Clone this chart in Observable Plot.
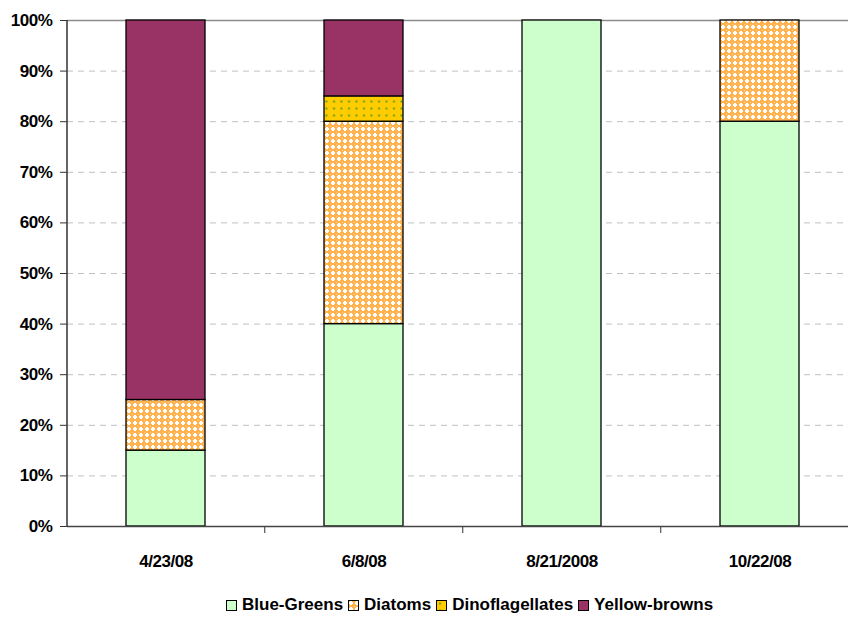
<!DOCTYPE html>
<html><head><meta charset="utf-8">
<script src="https://cdn.jsdelivr.net/npm/d3@7"></script>
<script src="https://cdn.jsdelivr.net/npm/@observablehq/plot@0.6"></script>
<style>
body{margin:0;background:#fff;font-family:"Liberation Sans",Arial,sans-serif;}
#wrap{position:relative;width:848px;height:624px;overflow:hidden;}
#legend{position:absolute;left:226px;top:595px;display:flex;align-items:center;font-weight:bold;font-size:17px;color:#000;white-space:nowrap;}
#legend .item{display:flex;align-items:center;margin-right:5px;}
#legend svg{margin-right:5px;}
</style></head><body>
<svg width="0" height="0" style="position:absolute">
  <defs>
    <pattern id="diatoms" width="6" height="6" patternUnits="userSpaceOnUse">
      <rect width="6" height="6" fill="#FFB24E"/>
      <rect x="2" y="1" width="2" height="4" fill="#fff"/>
      <rect x="1" y="2" width="4" height="2" fill="#fff"/>
      <rect x="0" y="0" width="1" height="1" fill="#FFD59A"/>
    </pattern>
    <pattern id="dinos" width="7.5" height="7" patternUnits="userSpaceOnUse">
      <rect width="7.5" height="7" fill="#FFCC00"/>
      <rect x="3" y="2.5" width="2" height="2" fill="#669E1A"/>
    </pattern>
  </defs>
</svg>
<div id="wrap"><div id="chart"></div><div id="legend"></div></div>
<script>
const dates = ["4/23/08", "6/8/08", "8/21/2008", "10/22/08"];
const series = ["Blue-Greens", "Diatoms", "Dinoflagellates", "Yellow-browns"];
const blueGreens = [15, 40, 100, 80];
const diatoms = [10, 40, 0, 20];
const dinoflagellates = [0, 5, 0, 0];
const yellowBrowns = [75, 15, 0, 0];
const yTicks = [0, 10, 20, 30, 40, 50, 60, 70, 80, 90, 100];
const seriesFills = ["#CCFFCC", "url(#diatoms)", "url(#dinos)", "#993366"];

const valuesBySeries = [blueGreens, diatoms, dinoflagellates, yellowBrowns];
const rows = [];
dates.forEach((d, i) => {
  series.forEach((s, j) => {
    const v = valuesBySeries[j][i];
    if (v > 0) rows.push({date: d, series: s, value: v});
  });
});

const chart = Plot.plot({
  width: 848,
  height: 585,
  marginLeft: 67,
  marginRight: 0,
  marginTop: 20,
  marginBottom: 59,
  style: {fontFamily: "'Liberation Sans', Arial, sans-serif", background: "#fff", overflow: "visible"},
  x: {domain: dates, range: [66, 860], paddingInner: 0.6, paddingOuter: 0.3, label: null},
  y: {domain: [0, 100], label: null},
  color: {type: "ordinal", domain: series, range: seriesFills},
  marks: [
    Plot.ruleY(yTicks.filter(t => t > 0 && t < 100), {stroke: "#c0c0c0", strokeDasharray: "6,5", strokeWidth: 1}),
    Plot.ruleY([100], {stroke: "#8c8c8c", strokeWidth: 1.5}),
    Plot.barY(rows, Plot.stackY({x: "date", y: "value", fill: "series", stroke: "#000", strokeWidth: 1.3, order: series})),
    Plot.axisY({ticks: yTicks, tickFormat: d => d + "%", tickSize: 7, tickPadding: 8, fontSize: 17, fontWeight: "bold", stroke: "#333", fill: "#000"}),
    Plot.axisX(dates.slice(1), {tickSize: 7, tickFormat: () => "", dx: -99.25, stroke: "#333"}),
    Plot.axisX({tickSize: 0, tickPadding: 28, fontSize: 17, fontWeight: "bold", fill: "#000"}),
    Plot.ruleY([0], {stroke: "#444", strokeWidth: 1.5})
  ]
});
document.getElementById("chart").appendChild(chart);

const svg = d3.select(chart);
svg.selectAll("g[aria-label='y-axis tick label'] text, g[aria-label='x-axis tick label'] text").style("letter-spacing", "-0.45px");
svg.append("line").attr("x1", 67).attr("x2", 67).attr("y1", 20).attr("y2", 526).attr("stroke", "#333").attr("stroke-width", 1.5);

const legend = document.getElementById("legend");
series.forEach((s, j) => {
  const item = document.createElement("div");
  item.className = "item";
  item.innerHTML = `<svg width="11" height="11"><rect x="0.5" y="0.5" width="10" height="10" fill="${seriesFills[j]}" stroke="#000" stroke-width="1"/></svg><span>${s}</span>`;
  legend.appendChild(item);
});
</script>
</body></html>
